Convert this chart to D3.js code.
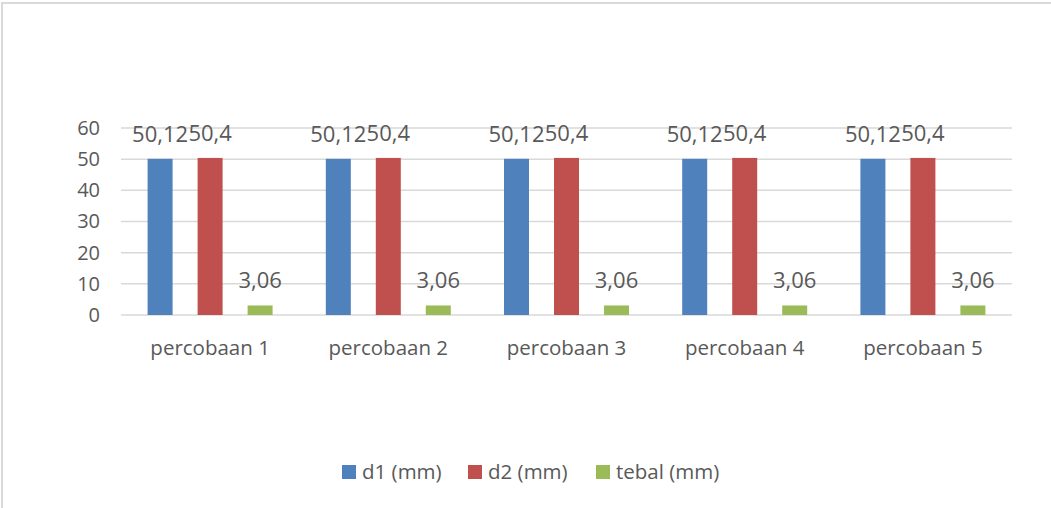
<!DOCTYPE html>
<html>
<head>
<meta charset="utf-8">
<script src="https://cdn.jsdelivr.net/npm/d3@7/dist/d3.min.js"></script>
<style>
  html, body { margin: 0; padding: 0; background: #fff; }
  svg text { font-family: "Open Sans", sans-serif; fill: #595959; }
</style>
</head>
<body>
<svg id="chart" width="1051" height="508"></svg>
<script>
// Trial data: diameter and thickness per run
const categories = ["percobaan 1", "percobaan 2", "percobaan 3", "percobaan 4", "percobaan 5"];
const seriesNames = ["d1 (mm)", "d2 (mm)", "tebal (mm)"];
const d1Values = [50.12, 50.12, 50.12, 50.12, 50.12];
const d2Values = [50.4, 50.4, 50.4, 50.4, 50.4];
const tebalValues = [3.06, 3.06, 3.06, 3.06, 3.06];
const yTicks = [0, 10, 20, 30, 40, 50, 60];
const seriesColors = ["#4F81BD", "#C0504D", "#9BBB59"];

const seriesValues = [d1Values, d2Values, tebalValues];
const fmt = v => String(v).replace(".", ",");

const svg = d3.select("#chart");

// Chart area frame
svg.append("rect")
  .attr("x", 2).attr("y", 3)
  .attr("width", 1100).attr("height", 600)
  .attr("fill", "#fff")
  .attr("stroke", "#D9D9D9").attr("stroke-width", 2);

const plot = { left: 121, right: 1012, top: 128, bottom: 315 };

const y = d3.scaleLinear().domain([0, 60]).range([plot.bottom, plot.top]);
const x0 = d3.scaleBand().domain(categories).range([plot.left, plot.right]).padding(0);
const x1 = d3.scaleBand().domain(seriesNames).range([0, x0.bandwidth()])
  .paddingInner(0.5).paddingOuter(0.532);

// Gridlines
svg.append("g")
  .selectAll("line")
  .data(yTicks)
  .join("line")
  .attr("x1", plot.left).attr("x2", plot.right)
  .attr("y1", d => y(d)).attr("y2", d => y(d))
  .attr("stroke", "#D9D9D9").attr("stroke-width", 1.5);

// Y axis labels
const yAxis = d3.axisLeft(y).tickValues(yTicks).tickSize(0).tickPadding(21);
const gy = svg.append("g").attr("transform", `translate(${plot.left},0)`).call(yAxis);
gy.select(".domain").remove();
gy.selectAll("text")
  .attr("font-size", 20)
  .attr("font-family", "Open Sans, sans-serif")
  .attr("fill", "#595959");

// X axis labels
const xAxis = d3.axisBottom(x0).tickSize(0).tickPadding(25);
const gx = svg.append("g").attr("transform", `translate(0,${plot.bottom})`).call(xAxis);
gx.select(".domain").remove();
gx.selectAll("text")
  .attr("font-size", 20.5)
  .attr("font-family", "Open Sans, sans-serif")
  .attr("fill", "#595959");

// Bars and value labels
const rows = [];
categories.forEach((c, i) => {
  seriesNames.forEach((s, j) => {
    rows.push({ cat: c, series: s, value: seriesValues[j][i], color: seriesColors[j] });
  });
});

const bars = svg.append("g");
bars.selectAll("rect")
  .data(rows)
  .join("rect")
  .attr("x", d => x0(d.cat) + x1(d.series))
  .attr("y", d => y(d.value))
  .attr("width", x1.bandwidth())
  .attr("height", d => y(0) - y(d.value))
  .attr("fill", d => d.color);

svg.append("g")
  .selectAll("text")
  .data(rows)
  .join("text")
  .attr("x", d => x0(d.cat) + x1(d.series) + x1.bandwidth() / 2)
  .attr("y", d => y(d.value) - 17)
  .attr("text-anchor", "middle")
  .attr("font-size", 22)
  .text(d => fmt(d.value));

// Legend
const legendX = [342, 468, 596];
const legend = svg.append("g");
seriesNames.forEach((s, j) => {
  legend.append("rect")
    .attr("x", legendX[j]).attr("y", 465)
    .attr("width", 14).attr("height", 14)
    .attr("fill", seriesColors[j]);
  legend.append("text")
    .attr("x", legendX[j] + 20).attr("y", 479)
    .attr("font-size", 20.5)
    .text(s);
});
</script>
</body>
</html>
